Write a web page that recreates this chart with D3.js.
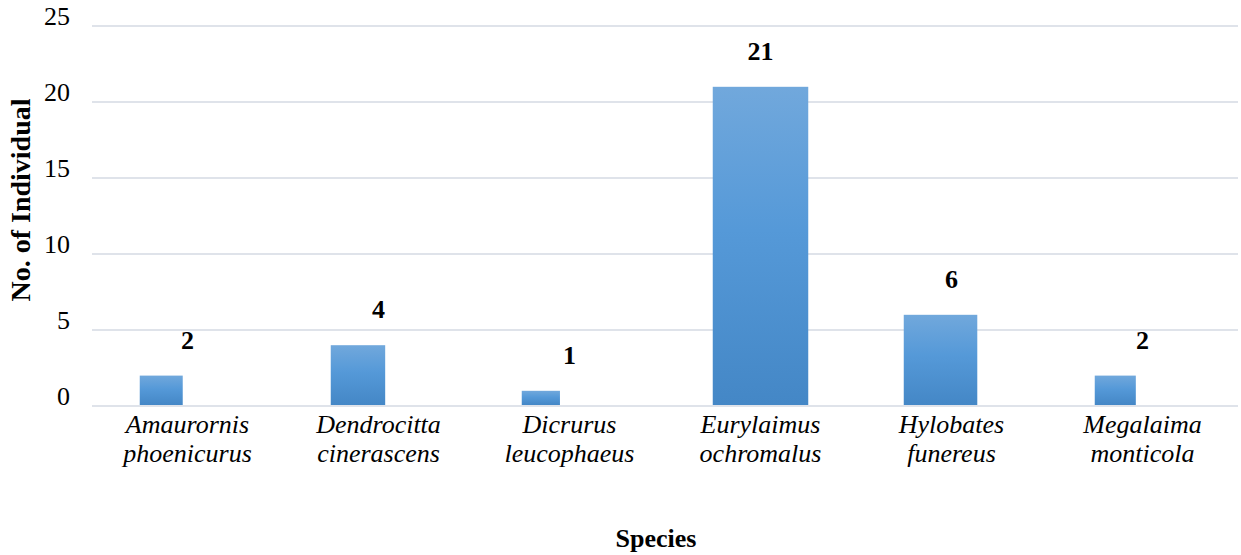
<!DOCTYPE html>
<html>
<head>
<meta charset="utf-8">
<script src="https://cdn.jsdelivr.net/npm/d3@7"></script>
<style>
  html, body { margin: 0; padding: 0; background: #ffffff; }
  svg { display: block; }
  text { font-family: "Liberation Serif", "Times New Roman", serif; fill: #000; }
</style>
</head>
<body>
<script>
// ---- data ----
const genus   = ["Amaurornis", "Dendrocitta", "Dicrurus", "Eurylaimus", "Hylobates", "Megalaima"];
const species = ["phoenicurus", "cinerascens", "leucophaeus", "ochromalus", "funereus", "monticola"];
const counts  = [2, 4, 1, 21, 6, 2];
const yTicks  = [0, 5, 10, 15, 20, 25];
const xTitle  = "Species";
const yTitle  = "No. of Individual";

// ---- style (as drawn in the reference: bar width as a share of the band slot) ----
const barShare = [0.45, 0.57, 0.40, 1.0, 0.77, 0.43];

const W = 1241, H = 555;
const m = { left: 92, right: 3, top: 26, bottom: 149 };

const svg = d3.select("body").append("svg").attr("width", W).attr("height", H);

const x = d3.scaleBand().domain(genus).range([m.left, W - m.right]).paddingInner(0.5).paddingOuter(0.25);
const y = d3.scaleLinear().domain([0, 25]).range([H - m.bottom, m.top]);

const defs = svg.append("defs");
const grad = defs.append("linearGradient").attr("id", "barGrad")
  .attr("x1", 0).attr("y1", 0).attr("x2", 0).attr("y2", 1);
grad.append("stop").attr("offset", "0%").attr("stop-color", "#71a8dc");
grad.append("stop").attr("offset", "45%").attr("stop-color", "#5599d8");
grad.append("stop").attr("offset", "100%").attr("stop-color", "#4487c6");

// gridlines
svg.append("g").selectAll("line").data(yTicks).join("line")
  .attr("x1", m.left).attr("x2", W - m.right)
  .attr("y1", d => y(d)).attr("y2", d => y(d))
  .attr("stroke", "#dfe3ea").attr("stroke-width", 2);

// y tick labels
svg.append("g").selectAll("text").data(yTicks).join("text")
  .attr("x", 70).attr("y", d => y(d) - 1)
  .attr("text-anchor", "end").attr("font-size", 26)
  .text(d => d);

// bars
svg.append("g").selectAll("rect").data(counts).join("rect")
  .attr("x", (d, i) => x(genus[i]))
  .attr("y", d => y(d))
  .attr("width", (d, i) => x.bandwidth() * barShare[i])
  .attr("height", d => y(0) - y(d) - 1)
  .attr("fill", "url(#barGrad)");

// value labels
svg.append("g").selectAll("text").data(counts).join("text")
  .attr("x", (d, i) => x(genus[i]) + x.bandwidth() / 2)
  .attr("y", d => y(d) - 27)
  .attr("text-anchor", "middle").attr("font-size", 26).attr("font-weight", "bold")
  .text(d => d);

// category labels (two lines, italic)
const cat = svg.append("g").selectAll("text").data(genus).join("text")
  .attr("text-anchor", "middle").attr("font-size", 26).attr("font-style", "italic");
cat.append("tspan").attr("x", d => x(d) + x.bandwidth() / 2).attr("y", 433).text(d => d);
cat.append("tspan").attr("x", d => x(d) + x.bandwidth() / 2).attr("y", 462).text((d, i) => species[i]);

// axis titles
svg.append("text").attr("x", 656).attr("y", 547)
  .attr("text-anchor", "middle").attr("font-size", 26).attr("font-weight", "bold")
  .text(xTitle);
svg.append("text").attr("transform", "translate(30,200) rotate(-90)")
  .attr("text-anchor", "middle").attr("font-size", 28).attr("font-weight", "bold")
  .text(yTitle);
</script>
</body>
</html>
